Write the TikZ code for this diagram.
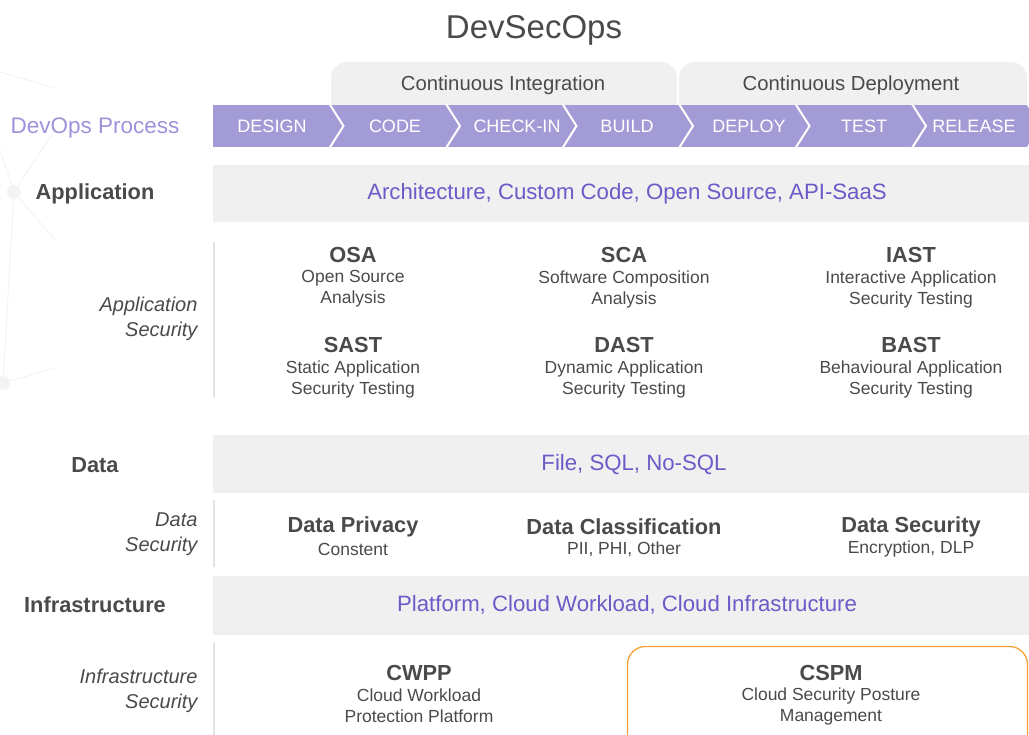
\documentclass[tikz,border=0pt]{standalone}
\usepackage{fontspec}
\setmainfont{Liberation Sans}
\definecolor{txt}{HTML}{4A4A4A}
\definecolor{band}{HTML}{F0F0F0}
\definecolor{chev}{HTML}{A39BD6}
\definecolor{proc}{HTML}{9C93DA}
\definecolor{purp}{HTML}{6A5BC8}
\definecolor{orng}{HTML}{F7A035}
\definecolor{vline}{HTML}{E2E2E2}
\definecolor{faint}{HTML}{F3F3F3}
\newcommand{\fs}[2]{\fontsize{#1}{#2}\selectfont}
\begin{document}
\begin{tikzpicture}[x=1pt,y=-1pt,
  title/.style={text=txt,font=\fs{33}{38}},
  tabtxt/.style={text=txt,font=\fs{20.3}{24}},
  chevtxt/.style={text=white,font=\fs{18}{22}},
  bandtxt/.style={text=purp,font=\fs{22.2}{26}},
  rowlbl/.style={text=txt,font=\bfseries\fs{21.8}{26}},
  seclbl/.style={text=txt,font=\itshape\fs{20}{24.5},align=right,anchor=east},
  itemhead/.style={text=txt,font=\bfseries\fs{21.8}{25}},
  itemsub/.style={text=txt,font=\fs{17.5}{21},align=center},
  bandbox/.style={fill=band,draw=none},
  sepline/.style={draw=vline,line width=1.2pt},
  chevsep/.style={draw=white,line width=2pt},
  netline/.style={draw=faint,line width=1pt}
]
\useasboundingbox (0,0) rectangle (1029,735);
\clip (0,0) rectangle (1029,735);
% faint background network
\draw[netline] (0,72) -- (55,88);
\draw[netline] (0,150) -- (14,192) -- (55,130);
\draw[netline] (14,192) -- (55,240);
\draw[netline] (14,192) -- (3,383) -- (55,368);
\fill[faint] (14,192) circle (7);
\fill[faint] (3,383) circle (7);
% title
\node[title] (ttl) at (534,30) {DevSecOps};
% tabs
\fill[band,rounded corners=16] (331,62) rectangle (677,125);
\fill[band,rounded corners=16] (679,62) rectangle (1027,125);
\node[tabtxt] (ci) at (503,85) {Continuous Integration};
\node[tabtxt] (cd) at (851,85) {Continuous Deployment};
% chevron bar
\fill[chev] (213,105) rectangle (1029,147);
\foreach \b in {329.5,446,562.5,679,795.5,912,1027.5}
  \draw[chevsep] (\b,104) -- (\b+14,126) -- (\b,148);
\node[text=proc,font=\fs{22.5}{26}] (devops) at (95,128) {DevOps Process};
\node[chevtxt] (c1) at (272,126) {DESIGN};
\node[chevtxt] (c2) at (395,126) {CODE};
\node[chevtxt] (c3) at (517,126) {CHECK-IN};
\node[chevtxt] (c4) at (627,126) {BUILD};
\node[chevtxt] (c5) at (749,126) {DEPLOY};
\node[chevtxt] (c6) at (864,126) {TEST};
\node[chevtxt] (c7) at (974,126) {RELEASE};
% application band
\fill[bandbox] (213,165) rectangle (1029,222);
\node[bandtxt] (appb) at (627,194) {Architecture, Custom Code, Open Source, API-SaaS};
\node[rowlbl] (appl) at (95,194) {Application};
% app security
\draw[sepline] (214,242) -- (214,397);
\node[seclbl] (appsec) at (201,319) {Application\\Security};
\node[itemhead] (osa) at (353,255) {OSA};
\node[itemsub] (osas) at (353,289) {Open Source\\Analysis};
\node[itemhead] (sca) at (624,255) {SCA};
\node[itemsub] (scas) at (624,289) {Software Composition\\Analysis};
\node[itemhead] (iast) at (911,255) {IAST};
\node[itemsub] (iasts) at (911,289) {Interactive Application\\Security Testing};
\node[itemhead] (sast) at (353,345) {SAST};
\node[itemsub] (sasts) at (353,379) {Static Application\\Security Testing};
\node[itemhead] (dast) at (624,345) {DAST};
\node[itemsub] (dasts) at (624,379) {Dynamic Application\\Security Testing};
\node[itemhead] (bast) at (911,345) {BAST};
\node[itemsub] (basts) at (911,379) {Behavioural Application\\Security Testing};
% data band
\fill[bandbox] (213,435) rectangle (1029,493);
\node[bandtxt] (datab) at (634,465) {File, SQL, No-SQL};
\node[rowlbl] (datal) at (95,465) {Data};
% data security
\draw[sepline] (214,500) -- (214,567);
\node[seclbl] (datasec) at (201,534) {Data\\Security};
\node[itemhead] (dp) at (353,527) {Data Privacy};
\node[itemsub] (dps) at (353,549) {Constent};
\node[itemhead] (dc) at (624,527) {Data Classification};
\node[itemsub] (dcs) at (624,549) {PII, PHI, Other};
\node[itemhead] (ds) at (911,527) {Data Security};
\node[itemsub] (dss) at (911,549) {Encryption, DLP};
% infrastructure band
\fill[bandbox] (213,576) rectangle (1029,635);
\node[bandtxt] (infb) at (627,605) {Platform, Cloud Workload, Cloud Infrastructure};
\node[rowlbl] (infl) at (95,605) {Infrastructure};
% infra security
\draw[sepline] (214,643) -- (214,735);
\node[seclbl] (infsec) at (201,691) {Infrastructure\\Security};
\draw[draw=orng,line width=1.3pt,rounded corners=18] (627.5,760) -- (627.5,646.5) -- (1027.5,646.5) -- (1027.5,760);
\node[itemhead] (cwpp) at (419,673) {CWPP};
\node[itemsub] (cwpps) at (419,706) {Cloud Workload\\Protection Platform};
\node[itemhead] (cspm) at (831,673) {CSPM};
\node[itemsub] (cspms) at (831,706) {Cloud Security Posture\\Management};
\end{tikzpicture}
\end{document}
